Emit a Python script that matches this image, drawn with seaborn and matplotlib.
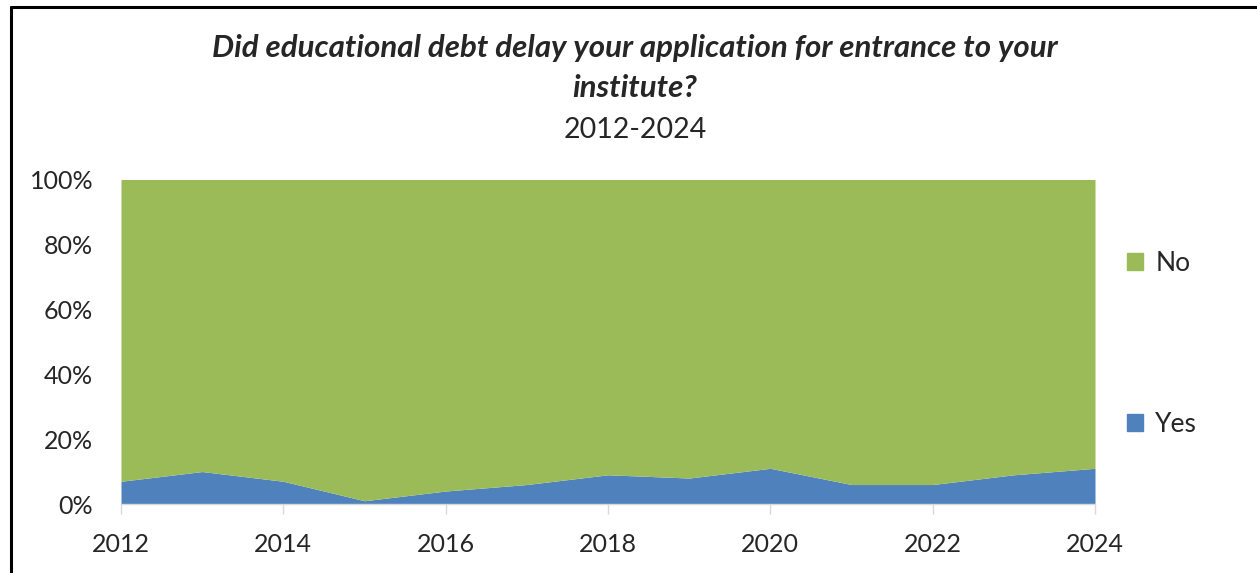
import numpy as np
import pandas as pd
import matplotlib
matplotlib.use("Agg")
import matplotlib.pyplot as plt
from matplotlib.lines import Line2D
from matplotlib.patches import Patch
from matplotlib.ticker import FuncFormatter
import seaborn as sns

years = [2012, 2013, 2014, 2015, 2016, 2017, 2018, 2019, 2020, 2021, 2022, 2023, 2024]
yes_pct = [7, 10, 7, 1, 4, 6, 9, 8, 11, 6, 6, 9, 11]
no_pct = [100 - v for v in yes_pct]
series_names = ["Yes", "No"]
series_colors = ["#4F81BD", "#9BBB59"]
x_ticks = [2012, 2014, 2016, 2018, 2020, 2022, 2024]
y_ticks = [0, 20, 40, 60, 80, 100]
title_lines = ["Did educational debt delay your application for entrance to your",
               "institute?"]
title_sub = "2012-2024"

df = pd.DataFrame({"Year": years, "Yes": yes_pct, "No": no_pct})

sns.set_style("white")
plt.rcParams["font.family"] = ["Lato", "DejaVu Sans"]

W, H = 1257, 573
fig = plt.figure(figsize=(W / 100, H / 100), dpi=100)
ax = fig.add_axes([121 / W, 1 - 504 / H, (1095 - 121) / W, (504 - 179.5) / H])

ax.stackplot(df["Year"], df["Yes"], df["No"], colors=series_colors, linewidth=0)

ax.set_xlim(years[0], years[-1])
ax.set_ylim(0, 100)
ax.set_xticks(x_ticks)
ax.set_yticks(y_ticks)
ax.yaxis.set_major_formatter(FuncFormatter(lambda v, _: f"{int(v)}%"))
ax.tick_params(axis="x", labelsize=18, length=7, width=1, color="#D9D9D9", pad=14, direction="out")
ax.tick_params(axis="y", labelsize=18, length=0, pad=20)
ax.tick_params(axis="x", bottom=True)
for side in ["top", "right", "left"]:
    ax.spines[side].set_visible(False)
ax.spines["bottom"].set_color("#D9D9D9")
ax.spines["bottom"].set_linewidth(1)

# Title block (positions are text baselines)
title_base = [57, 97]
for line, yy in zip(title_lines, title_base):
    fig.text(635 / W, 1 - yy / H, line, ha="center", va="baseline", fontsize=22.5,
             fontweight="bold", fontstyle="italic")
fig.text(635 / W, 1 - 138 / H, title_sub, ha="center", va="baseline", fontsize=20.5)

# Legend: No on top, Yes below, widely spaced
handles = [Patch(color=series_colors[1], label=series_names[1]),
           Patch(color=series_colors[0], label=series_names[0])]
fig.legend(handles=handles, loc="upper left", bbox_to_anchor=(1127 / W, 1 - 251 / H),
           frameon=False, fontsize=19, handlelength=0.62, handleheight=0.62,
           handletextpad=0.45, labelspacing=5.16, borderaxespad=0, borderpad=0)

# Outer chart frame (left and top edges)
fig.add_artist(Line2D([11 / W, 11 / W], [0, 1 - 6.5 / H], color="black", lw=2.2,
                      transform=fig.transFigure))
fig.add_artist(Line2D([11 / W, 1], [1 - 6.5 / H, 1 - 6.5 / H], color="black", lw=2.2,
                      transform=fig.transFigure))

fig.savefig("out.png", dpi=100)
